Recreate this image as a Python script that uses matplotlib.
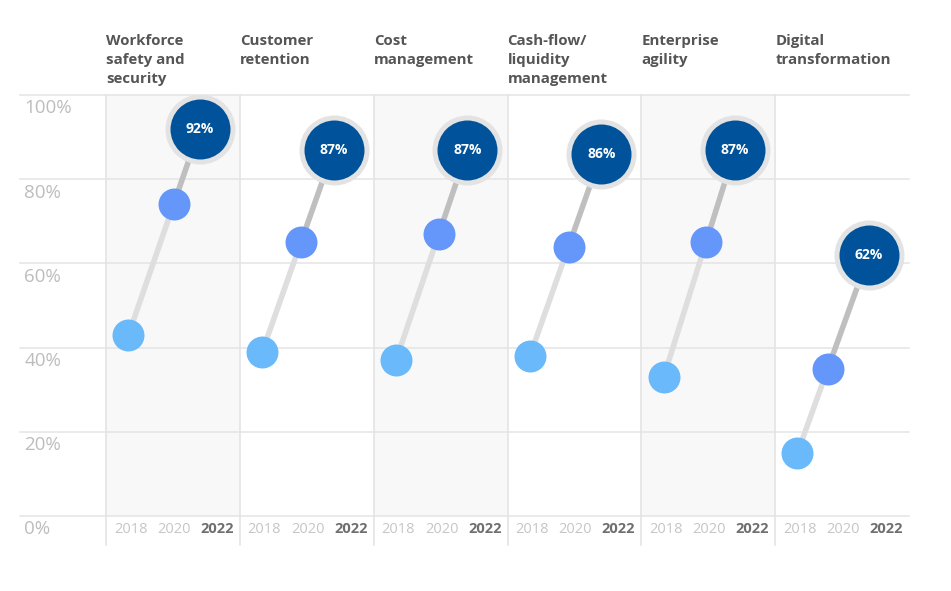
import matplotlib
matplotlib.use("Agg")
import matplotlib.pyplot as plt
import numpy as np

plt.rcParams['font.family'] = ['Open Sans', 'DejaVu Sans']

categories = ["Workforce\nsafety and\nsecurity", "Customer\nretention", "Cost\nmanagement",
              "Cash-flow/\nliquidity\nmanagement", "Enterprise\nagility", "Digital\ntransformation"]
years = ["2018", "2020", "2022"]
v2018 = [43, 39, 37, 38, 33, 15]
v2020 = [74, 65, 67, 64, 65, 35]
v2022 = [92, 87, 87, 86, 87, 62]
yticks = [0, 20, 40, 60, 80, 100]

c2018 = "#69b9fb"
c2020 = "#6597fb"
c2022 = "#00539a"

W, H = 951, 591
fig = plt.figure(figsize=(W / 100, H / 100), dpi=100)
ax = fig.add_axes([20 / W, 1 - 516 / H, (909 - 20) / W, (516 - 95) / H])
ax.set_xlim(-2.43, 17.5)
ax.set_ylim(0, 100)
ax.axis("off")

# panel shading and separators
for i in range(len(categories)):
    x0 = i * 3 - 0.5
    if i % 2 == 0:
        ax.axvspan(x0, x0 + 3, ymin=0, ymax=1, color="#f8f8f8", zorder=0, lw=0)
    ax.plot([x0, x0], [-7, 100], color="#e2e2e2", lw=1.1, zorder=1, clip_on=False)

# horizontal grid + y labels
for t in yticks:
    ax.plot([-2.43, 17.5], [t, t], color="#e4e4e4", lw=1.1, zorder=1, clip_on=False)
    ax.text(-2.33, t - 3.2, f"{t}%", ha="left", va="center", fontsize=13.5, color="#bdbdbd")

for i, cat in enumerate(categories):
    b = i * 3
    # all three dots sit on one straight line; 2020 placed along it
    frac = (v2020[i] - v2018[i]) / (v2022[i] - v2018[i])
    xs = [b, b + 1.6 * frac, b + 1.6]
    ax.plot(xs[:2], [v2018[i], v2020[i]], color="#dedede", lw=4, zorder=2, solid_capstyle="butt")
    ax.plot(xs[1:], [v2020[i], v2022[i]], color="#bfbfbf", lw=4, zorder=2, solid_capstyle="butt")
    ax.scatter([xs[0]], [v2018[i]], s=530, color=c2018, zorder=3, lw=0)
    ax.scatter([xs[1]], [v2020[i]], s=530, color=c2020, zorder=3, lw=0)
    ax.scatter([xs[2]], [v2022[i]], s=2190, color=c2022, edgecolor="#e3e3e3", lw=3.6, zorder=4)
    ax.text(xs[2], v2022[i], f"{v2022[i]}%", ha="center", va="center", color="white",
            fontsize=10, fontweight="bold", zorder=5)
    # title
    ax.text(b - 0.5, 100 + (95 - 34) / 4.21, cat, ha="left", va="top", fontsize=10.8,
            fontweight="bold", color="#555555", linespacing=1.45, clip_on=False)
    # year labels
    for j, y in enumerate(years):
        bold = j == 2
        ax.text(b + j * 0.97 + 0.05, -3.1, y, ha="center", va="center", fontsize=10.5,
                color="#6f6f6f" if bold else "#c6c6c6",
                fontweight="bold" if bold else "normal", clip_on=False)

fig.savefig("out.png", dpi=100, facecolor="white")
